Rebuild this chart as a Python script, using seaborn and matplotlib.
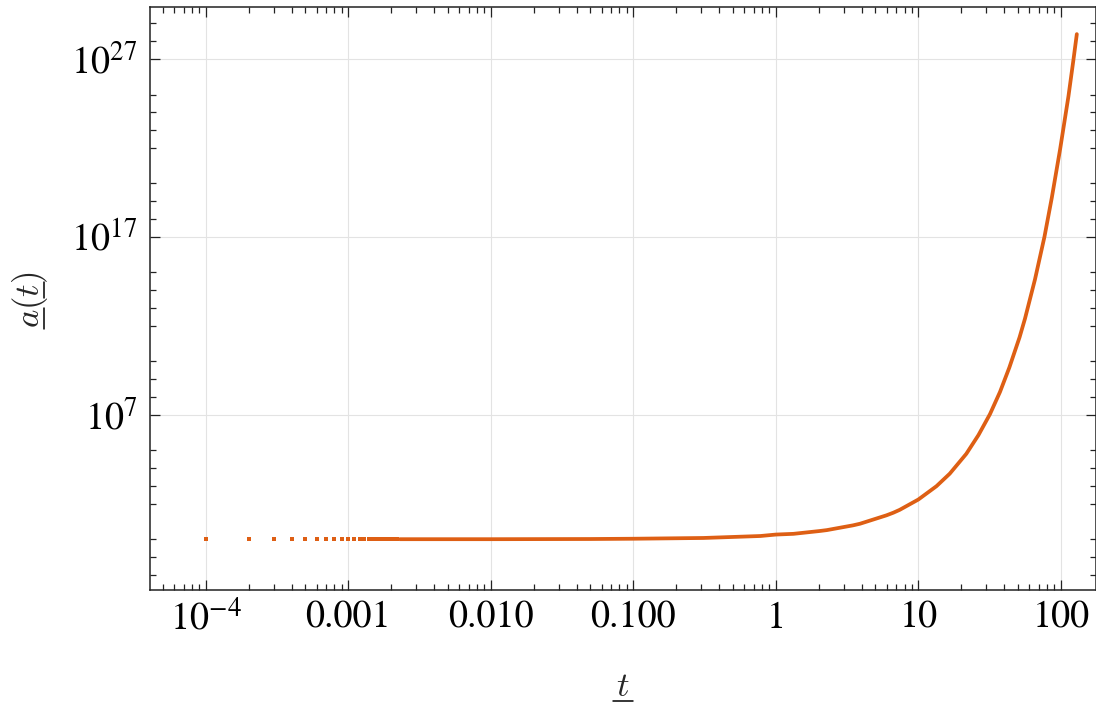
import numpy as np
import pandas as pd
import matplotlib
matplotlib.use("Agg")
import matplotlib.pyplot as plt
import matplotlib.ticker as mticker
from matplotlib.lines import Line2D
from matplotlib.font_manager import FontProperties
import seaborn as sns

# ---- data ----
t_dots = [0.0001, 0.0002, 0.0003, 0.0004, 0.0005, 0.0006, 0.0007, 0.0008,
          0.0009, 0.0010, 0.0011, 0.0012, 0.0013, 0.0014, 0.0015, 0.0016,
          0.0017, 0.0018, 0.0019, 0.0020, 0.0021, 0.0022]
a_dots = [1.0] * len(t_dots)

t_curve = [0.0023, 0.01, 0.05, 0.1, 0.31, 0.78, 1.0, 1.33, 2.03, 2.28, 3.48,
           3.9, 5.97, 6.68, 7.4, 10.0, 13.4, 16.6, 21.7, 26.4, 31.8, 37.4,
           43.5, 51.3, 56.0, 65.8, 76.7, 86.4, 98.9, 113.0, 122.5, 129.4]
a_curve = [1.0, 1.0, 1.023, 1.06, 1.17, 1.51, 1.82, 2.0, 2.88, 3.24, 6.0,
           7.4, 21.9, 30.9, 44.7, 170.0, 955.0, 4.8e3, 6.3e4, 7.1e5, 1.07e7,
           1.9e8, 4.5e9, 2.24e11, 2.5e12, 4.0e14, 1.0e17, 1.6e19, 8.9e21,
           7.9e24, 8.9e26, 2.5e28]

x_major = [1e-4, 1e-3, 1e-2, 1e-1, 1, 10, 100]
x_labels = [r"$10^{-4}$", "0.001", "0.010", "0.100", "1", "10", "100"]
y_major = [1e7, 1e17, 1e27]
y_labels = [r"$10^{7}$", r"$10^{17}$", r"$10^{27}$"]
y_minor_exp = [-2, -1, 0, 2, 3, 4, 5, 8, 9, 10, 12, 13, 14, 15, 18, 19, 20,
               22, 23, 24, 25, 28, 29]

color = "#DE5F14"
W, H = 1096, 706

sns.set_theme(style="white")
plt.rcParams["font.family"] = ["STIXGeneral", "DejaVu Serif"]
plt.rcParams["mathtext.fontset"] = "stix"

fig = plt.figure(figsize=(W / 100, H / 100), dpi=100)
ax = fig.add_axes([150 / W, 1 - 590 / H, 945.5 / W, (590 - 6.7) / H])

df_curve = pd.DataFrame({"t": t_curve, "a": a_curve})
df_dots = pd.DataFrame({"t": t_dots, "a": a_dots})

ax.set_xscale("log")
ax.set_yscale("log")

sns.lineplot(data=df_curve, x="t", y="a", ax=ax, color=color, linewidth=2.7,
             sort=True, estimator=None)
sns.scatterplot(data=df_dots, x="t", y="a", ax=ax, color=color, marker="s",
                s=7, linewidth=0)

ax.set_xlim(10 ** -4.391, 10 ** 2.243)
ax.set_ylim(10 ** -2.857, 10 ** 29.94)

ax.xaxis.set_major_locator(mticker.FixedLocator(x_major))
ax.xaxis.set_major_formatter(mticker.FixedFormatter(x_labels))
ax.xaxis.set_minor_locator(mticker.LogLocator(base=10, subs=np.arange(2, 10), numticks=50))
ax.xaxis.set_minor_formatter(mticker.NullFormatter())

ax.yaxis.set_major_locator(mticker.FixedLocator(y_major))
ax.yaxis.set_major_formatter(mticker.FixedFormatter(y_labels))
ax.yaxis.set_minor_locator(mticker.FixedLocator([10.0 ** e for e in y_minor_exp]))
ax.yaxis.set_minor_formatter(mticker.NullFormatter())

ax.tick_params(which="both", direction="in", top=True, right=True,
               bottom=True, left=True, colors="#222222", labelcolor="black",
               labelsize=27.5)
ax.tick_params(which="major", length=7, width=0.9)
ax.tick_params(which="minor", length=4, width=0.9)
ax.tick_params(axis="x", which="major", pad=8)
ax.tick_params(axis="y", which="major", pad=9)

ax.grid(True, which="major", color="#e3e3e3", linewidth=0.8)
ax.set_axisbelow(True)
for s in ax.spines.values():
    s.set_color("#222222")
    s.set_linewidth(1.1)
ax.set_xlabel("")
ax.set_ylabel("")

# ---- axis labels (underlined italic, drawn as text + rules) ----
lab_size = 25
xl = fig.text(623 / W, 1 - 696 / H, r"$t$", fontsize=lab_size, ha="center",
              va="baseline", math_fontfamily="cm")
yl = fig.text(30.5 / W, 1 - 300 / H, r"$a(t)$", fontsize=lab_size, ha="center",
              va="center", rotation=90, math_fontfamily="cm")

fig.canvas.draw()
r = fig.canvas.get_renderer()
prop = FontProperties(size=lab_size, math_fontfamily="cm")


def tw(s):
    return r.get_text_width_height_descent(s, prop, ismath=True)


def hline(x0, x1, y):
    fig.add_artist(Line2D([x0 / W, x1 / W], [y / H, y / H], transform=fig.transFigure,
                          color="black", linewidth=1.1, clip_on=False))


def vline(x, y0, y1):
    fig.add_artist(Line2D([x / W, x / W], [y0 / H, y1 / H], transform=fig.transFigure,
                          color="black", linewidth=1.1, clip_on=False))


# x label underline (baseline at 696 px from top)
w_t = tw(r"$t$")[0]
xc = 623
hline(xc - w_t / 2 - 3, xc + w_t / 2 + 3, H - 700.5)

# y label underlines (text runs bottom -> top, descent side on the right)
bb = yl.get_window_extent(r)
w_all, h_all, d_all = tw(r"$a(t)$")
base_x = bb.x1 - d_all
ul_x = base_x + 4
w_a = tw(r"$a$")[0]
w_ap = tw(r"$a($")[0]
w_apt = tw(r"$a(t$")[0]
vline(ul_x, bb.y0 - 1, bb.y0 + w_a + 1)
vline(ul_x, bb.y0 + w_ap - 2, bb.y0 + w_apt + 1)

fig.savefig("out.png", dpi=100)
